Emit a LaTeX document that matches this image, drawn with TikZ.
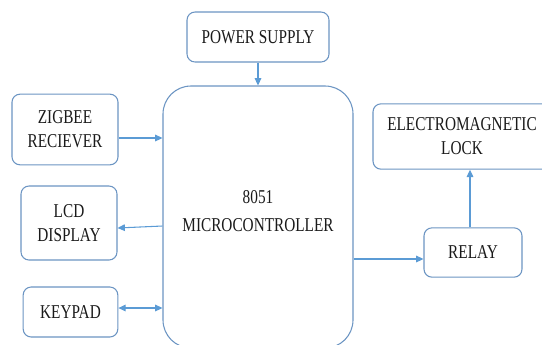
\documentclass[tikz,border=0pt]{standalone}
\usepackage{fontspec}
\usetikzlibrary{arrows.meta, calc}
\newfontfamily\boxfont[FakeStretch=0.78]{Liberation Serif}
\definecolor{boxline}{HTML}{6C95C3}
\definecolor{flowline}{HTML}{5B9BD5}
\definecolor{boxtext}{HTML}{1A1A1A}
\tikzset{
  block/.style={rectangle, rounded corners=6pt, draw=boxline, line width=0.8pt,
                fill=white, align=center, text=boxtext, inner sep=0pt,
                font=\boxfont\fontsize{14.7}{18}\selectfont},
  mcublock/.style={block, rounded corners=21pt},
  flow/.style={-{Triangle[length=5.5pt, width=5pt]}, line width=0.8pt, draw=flowline},
  dflow/.style={{Triangle[length=5.5pt, width=5pt]}-{Triangle[length=5.5pt, width=5pt]},
                line width=0.8pt, draw=flowline},
}

\begin{document}
\begin{tikzpicture}[x=0.75pt, y=-0.75pt]
\useasboundingbox (0,0) rectangle (542,344);
\clip (0,0) rectangle (542,344);

% Controller in the middle, cut off by the lower edge
\node[mcublock, minimum width=142.5pt, minimum height=196.5pt] (mcu) at (258,217) {};
\node[font=\boxfont\fontsize{14.7}{21}\selectfont, text=boxtext, align=center]
  (mcutext) at (258,211) {8051\\MICROCONTROLLER};

% Supply on top
\node[block, minimum width=106.5pt, minimum height=37.5pt] (power) at (258,37) {POWER SUPPLY};

% Left column
\node[block, minimum width=79.5pt, minimum height=53pt] (zigbee) at (65,129.5) {ZIGBEE\\RECIEVER};
\node[block, minimum width=72pt, minimum height=55.5pt] (lcd) at (69,223) {LCD\\DISPLAY};
\node[block, minimum width=71pt, minimum height=37.5pt] (keypad) at (70.5,312) {KEYPAD};

% Right column
\node[block, minimum width=133.5pt, minimum height=49pt] (lock) at (462,136.5) {ELECTROMAGNETIC\\LOCK};
\node[block, minimum width=73.5pt, minimum height=37pt] (relay) at (473,252.5) {RELAY};

% Flow
\draw[flow] (power.south) -- (mcu.north);
\draw[flow] ($(zigbee.east)+(0,8.5)$) -- ($(zigbee.east -| mcu.west)+(0,8.5)$);
\draw[flow] ($(lcd.east -| mcu.west)+(0,3)$) -- ($(lcd.east)+(0,5)$);
\draw[dflow] ($(keypad.east)+(0,-4)$) -- ($(keypad.east -| mcu.west)+(0,-4)$);
\draw[flow] ($(relay.west -| mcu.east)+(0,6.5)$) -- ($(relay.west)+(0,6.5)$);
\draw[flow] ($(relay.north)+(-3,0)$) -- ($(relay.north |- lock.south)+(-3,0)$);

\end{tikzpicture}
\end{document}
